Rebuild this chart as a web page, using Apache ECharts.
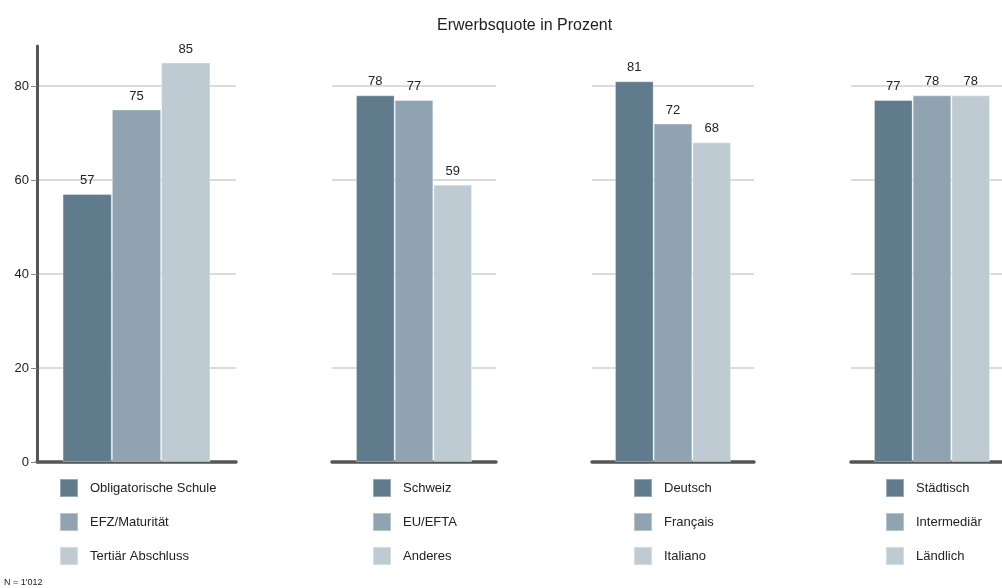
<!DOCTYPE html>
<html>
<head>
<meta charset="utf-8">
<script src="https://cdn.jsdelivr.net/npm/echarts@6/dist/echarts.min.js"></script>
<style>
  html, body { margin: 0; padding: 0; background: #fff; }
  #chart { width: 1002px; height: 588px; }
</style>
</head>
<body>
<div id="chart"></div>
<script>
// Erwerbsquote (labour force participation, %) by four breakdowns
const yTicks = [0, 20, 40, 60, 80];

const bildungNames = ['Obligatorische Schule', 'EFZ/Maturität', 'Tertiär Abschluss'];
const bildungValues = [57, 75, 85];

const herkunftNames = ['Schweiz', 'EU/EFTA', 'Anderes'];
const herkunftValues = [78, 77, 59];

const spracheNames = ['Deutsch', 'Français', 'Italiano'];
const spracheValues = [81, 72, 68];

const raumNames = ['Städtisch', 'Intermediär', 'Ländlich'];
const raumValues = [77, 78, 78];

const footnote = 'N = 1\'012';
const titleText = 'Erwerbsquote in Prozent';

const colors = ['#5f7b8c', '#8fa4b0', '#bfcbd3'];
const FONT = '"Liberation Sans", Arial, sans-serif';

// each panel: plot box (left edge, width) and where its legend sits
const panels = [
  { names: bildungNames, values: bildungValues, left: 37, width: 199, barWidth: 49.3, legendLeft: 59 },
  { names: herkunftNames, values: herkunftValues, left: 332, width: 164, barWidth: 38.7, legendLeft: 372 },
  { names: spracheNames, values: spracheValues, left: 592, width: 162, barWidth: 38.7, legendLeft: 633 },
  { names: raumNames, values: raumValues, left: 851, width: 162, barWidth: 38.7, legendLeft: 885 }
];

const grids = [], xAxes = [], yAxes = [], series = [], legends = [];

panels.forEach((p, i) => {
  grids.push({ left: p.left, width: p.width, top: 46, bottom: 126, outerBoundsMode: 'none', containLabel: false });
  xAxes.push({
    type: 'category', gridIndex: i, data: [''],
    axisLine: { show: true, lineStyle: { color: '#555', width: 3.5 } },
    axisTick: { show: false }, axisLabel: { show: false }
  });
  yAxes.push({
    type: 'value', gridIndex: i, min: 0, max: 88.5, interval: 20,
    axisLine: { show: i === 0, lineStyle: { color: '#555', width: 3 } },
    axisTick: { show: i === 0, length: 6, lineStyle: { color: '#888', width: 1 } },
    axisLabel: {
      show: i === 0, showMaxLabel: false, margin: 8,
      color: '#222', fontSize: 13, fontFamily: FONT,
      formatter: v => (yTicks.indexOf(v) >= 0 ? String(v) : '')
    },
    splitLine: { show: true, showMaxLine: false, lineStyle: { color: '#cfcfcf', width: 1.5 } }
  });
  p.names.forEach((n, k) => {
    series.push({
      name: n, type: 'bar', xAxisIndex: i, yAxisIndex: i,
      data: [p.values[k]], barWidth: p.barWidth, barGap: 0,
      itemStyle: { color: colors[k], borderColor: 'rgba(255,255,255,0.35)', borderWidth: 1 },
      label: {
        show: true, position: 'top', distance: 7,
        color: '#222', fontSize: 13, fontFamily: FONT
      },
      emphasis: { disabled: true }
    });
  });
  legends.push({
    data: p.names, orient: 'vertical', left: p.legendLeft, top: 478, padding: 0,
    itemWidth: 18, itemHeight: 18, itemGap: 14, icon: 'rect',
    selectedMode: false,
    textStyle: { color: '#222', fontSize: 13, fontFamily: FONT, padding: [0, 0, 0, 7] }
  });
});

const chart = echarts.init(document.getElementById('chart'), null, { renderer: 'canvas' });
chart.setOption({
  animation: false,
  backgroundColor: '#fff',
  title: [
    { text: titleText, left: 432, top: 13, textStyle: { color: '#222', fontSize: 16, fontWeight: 'normal', fontFamily: FONT } },
    { text: footnote, left: 4, top: 578, padding: 0, textStyle: { color: '#222', fontSize: 9, fontWeight: 'normal', fontFamily: FONT } }
  ],
  grid: grids,
  xAxis: xAxes,
  yAxis: yAxes,
  legend: legends,
  series: series
});
</script>
</body>
</html>
